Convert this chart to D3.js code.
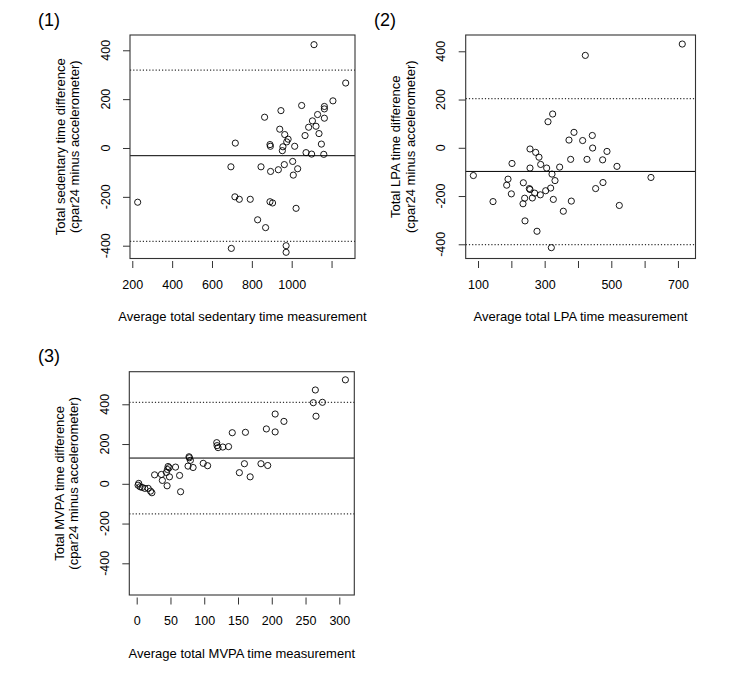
<!DOCTYPE html>
<html>
<head>
<meta charset="utf-8">
<script src="https://cdn.jsdelivr.net/npm/d3@7"></script>
<style>
  body { margin: 0; background: #fff; }
  text { font-family: "Liberation Sans", Arial, sans-serif; fill: #000; }
</style>
</head>
<body>
<script>
// panel (1) sedentary time
const sedX = [227, 695, 717, 697, 715, 737, 792, 829, 846, 864, 869, 891, 893, 894, 891, 904, 933, 940, 946, 953,
  956, 963, 965, 975, 982, 972, 972, 1005, 1008, 1015, 1022, 1030, 1050, 1067, 1072, 1085, 1100, 1104, 1112, 1122,
  1130, 1137, 1149, 1161, 1164, 1164, 1164, 1207, 1271];
const sedY = [-222, -77, 20, -411, -200, -210, -210, -294, -77, 126, -326, 14, 7, -96, -220, -225, -89, 77, 153, -11,
  5, -68, 55, 25, 36, -400, -427, -55, -111, 7, -247, -85, 174, 51, -19, 85, -25, 111, 423, 89,
  137, 59, 16, -26, 170, 160, 122, 193, 266];
const sedLines = [-31.5, 319, -382];

// panel (2) LPA time
const lpaX = [86, 145, 186, 190, 200, 202, 236, 235, 240, 241, 254, 256, 256, 256, 263, 270, 273, 277, 283, 287,
  288, 303, 306, 310, 318, 322, 324, 326, 320, 331, 345, 356, 373, 378, 380, 388, 414, 422, 427, 443,
  444, 453, 474, 475, 487, 517, 524, 619, 713];
const lpaY = [-115, -223, -155, -130, -191, -65, -145, -232, -209, -303, -169, -173, -5, -84, -208, -188, -19, -346, -39, -195,
  -69, -178, -84, 108, -167, -109, 140, -214, -414, -136, -80, -263, 32, -48, -221, 64, 30, 383, -48, 51,
  -1, -169, -50, -144, -15, -77, -239, -123, 430];
const lpaLines = [-98, 203.5, -401];

// panel (3) MVPA time
const mvpaX = [309, 264.5, 261.5, 275, 265.5, 205, 218, 192, 205, 141.5, 161, 118.5, 119, 120.5, 127.5, 136, 77.5, 78, 79.5, 76,
  83.5, 98.5, 105, 159.5, 152, 168, 184, 194, 26.5, 36.5, 38, 44, 45, 46.5, 48, 45.5, 48.5, 57.5, 63.5, 65,
  3, 2, 5, 8, 12, 17, 20.5, 22.5];
const mvpaY = [523, 472, 408, 410, 340, 351, 314, 276, 261, 257, 259, 207, 192, 182, 185, 187, 136, 131, 118, 89,
  82, 103, 91, 101, 56, 35, 101, 92, 45, 47, 17, 57, -10, 87, 81, 72, 35, 84, 42, -40,
  2, -7, -15, -18, -23, -23, -37, -45];
const mvpaLines = [129.5, 410, -151];

const yTicks = [-400, -200, 0, 200, 400];
const sedTicks = [200, 400, 600, 800, 1000, 1200];
const sedLabels = ["200", "400", "600", "800", "1000", ""];
const lpaTicks = [100, 200, 300, 400, 500, 600, 700];
const lpaLabels = ["100", "", "300", "", "500", "", "700"];
const mvpaTicks = [0, 50, 100, 150, 200, 250, 300];
const mvpaLabels = ["0", "50", "100", "150", "200", "250", "300"];

const width = 740, height = 680;
const svg = d3.select("body").append("svg")
  .attr("width", width).attr("height", height);
svg.append("rect").attr("width", width).attr("height", height).attr("fill", "#fff");

const panels = [
  { tag: "(1)", xs: sedX, ys: sedY, lines: sedLines, xt: sedTicks, xl: sedLabels,
    xdom: [188.5, 1317.7], ydom: [-452.4, 462.6], box: [130, 355, 35, 258.5],
    tagPos: [38, 26], ylab: ["Total sedentary time difference", "(cpar24 minus accelerometer)"],
    xlab: "Average total sedentary time measurement" },
  { tag: "(2)", xs: lpaX, ys: lpaY, lines: lpaLines, xt: lpaTicks, xl: lpaLabels,
    xdom: [63, 752.7], ydom: [-458.9, 467.5], box: [465.7, 695.5, 35, 258.5],
    tagPos: [374, 26], ylab: ["Total LPA time difference", "(cpar24 minus accelerometer)"],
    xlab: "Average total LPA time measurement" },
  { tag: "(3)", xs: mvpaX, ys: mvpaY, lines: mvpaLines, xt: mvpaTicks, xl: mvpaLabels,
    xdom: [-10.96, 322.2], ydom: [-559.5, 564], box: [129.3, 354.3, 371.7, 595],
    tagPos: [38, 362], ylab: ["Total MVPA time difference", "(cpar24 minus accelerometer)"],
    xlab: "Average total MVPA time measurement" }
];

panels.forEach(p => {
  const [l, r, t, b] = p.box;
  const x = d3.scaleLinear().domain(p.xdom).range([l, r]);
  const y = d3.scaleLinear().domain(p.ydom).range([b, t]);
  const g = svg.append("g");

  // reference lines: mean solid, limits of agreement dotted
  p.lines.forEach((v, i) => {
    g.append("line")
      .attr("x1", l).attr("x2", r).attr("y1", y(v)).attr("y2", y(v))
      .attr("stroke", i === 0 ? "#000" : "#333")
      .attr("stroke-width", i === 0 ? 1 : 1.2)
      .attr("stroke-dasharray", i === 0 ? null : "1.2,2");
  });

  // points
  g.selectAll("circle").data(d3.zip(p.xs, p.ys)).enter().append("circle")
    .attr("cx", d => x(d[0])).attr("cy", d => y(d[1]))
    .attr("r", 3.1).attr("fill", "none").attr("stroke", "#000").attr("stroke-width", 0.9);

  // box
  g.append("rect").attr("x", l).attr("y", t).attr("width", r - l).attr("height", b - t)
    .attr("fill", "none").attr("stroke", "#333").attr("stroke-width", 1.1);

  // x axis (ticks a bit below the box)
  const xa = g.append("g").attr("transform", `translate(0,${b + 2.5})`)
    .call(d3.axisBottom(x).tickValues(p.xt).tickSize(7).tickPadding(12)
      .tickFormat((d, i) => p.xl[i]));
  xa.select(".domain").remove();
  xa.selectAll("line").attr("stroke", "#333");
  xa.selectAll("text").attr("font-size", 12.5).attr("fill", "#000")
    .attr("font-family", "Liberation Sans, Arial, sans-serif");

  // y axis
  const ya = g.append("g").attr("transform", `translate(${l},0)`)
    .call(d3.axisLeft(y).tickValues(yTicks).tickSize(7).tickFormat(""));
  ya.select(".domain").remove();
  ya.selectAll("line").attr("stroke", "#333");
  g.selectAll(".ylab").data(yTicks).enter().append("text")
    .attr("class", "ylab")
    .attr("transform", d => `translate(${l - 20.5},${y(d)}) rotate(-90)`)
    .attr("text-anchor", "middle").attr("font-size", 12.5)
    .text(d => d);

  // titles
  g.append("text").attr("x", (l + r) / 2).attr("y", b + 62.5)
    .attr("text-anchor", "middle").attr("font-size", 13).text(p.xlab);
  p.ylab.forEach((s, i) => {
    g.append("text")
      .attr("transform", `translate(${l - 65.5 + i * 14.5},${(t + b) / 2}) rotate(-90)`)
      .attr("text-anchor", "middle").attr("font-size", 13).text(s);
  });
  g.append("text").attr("x", p.tagPos[0]).attr("y", p.tagPos[1])
    .attr("font-size", 18).text(p.tag);
});
</script>
</body>
</html>
